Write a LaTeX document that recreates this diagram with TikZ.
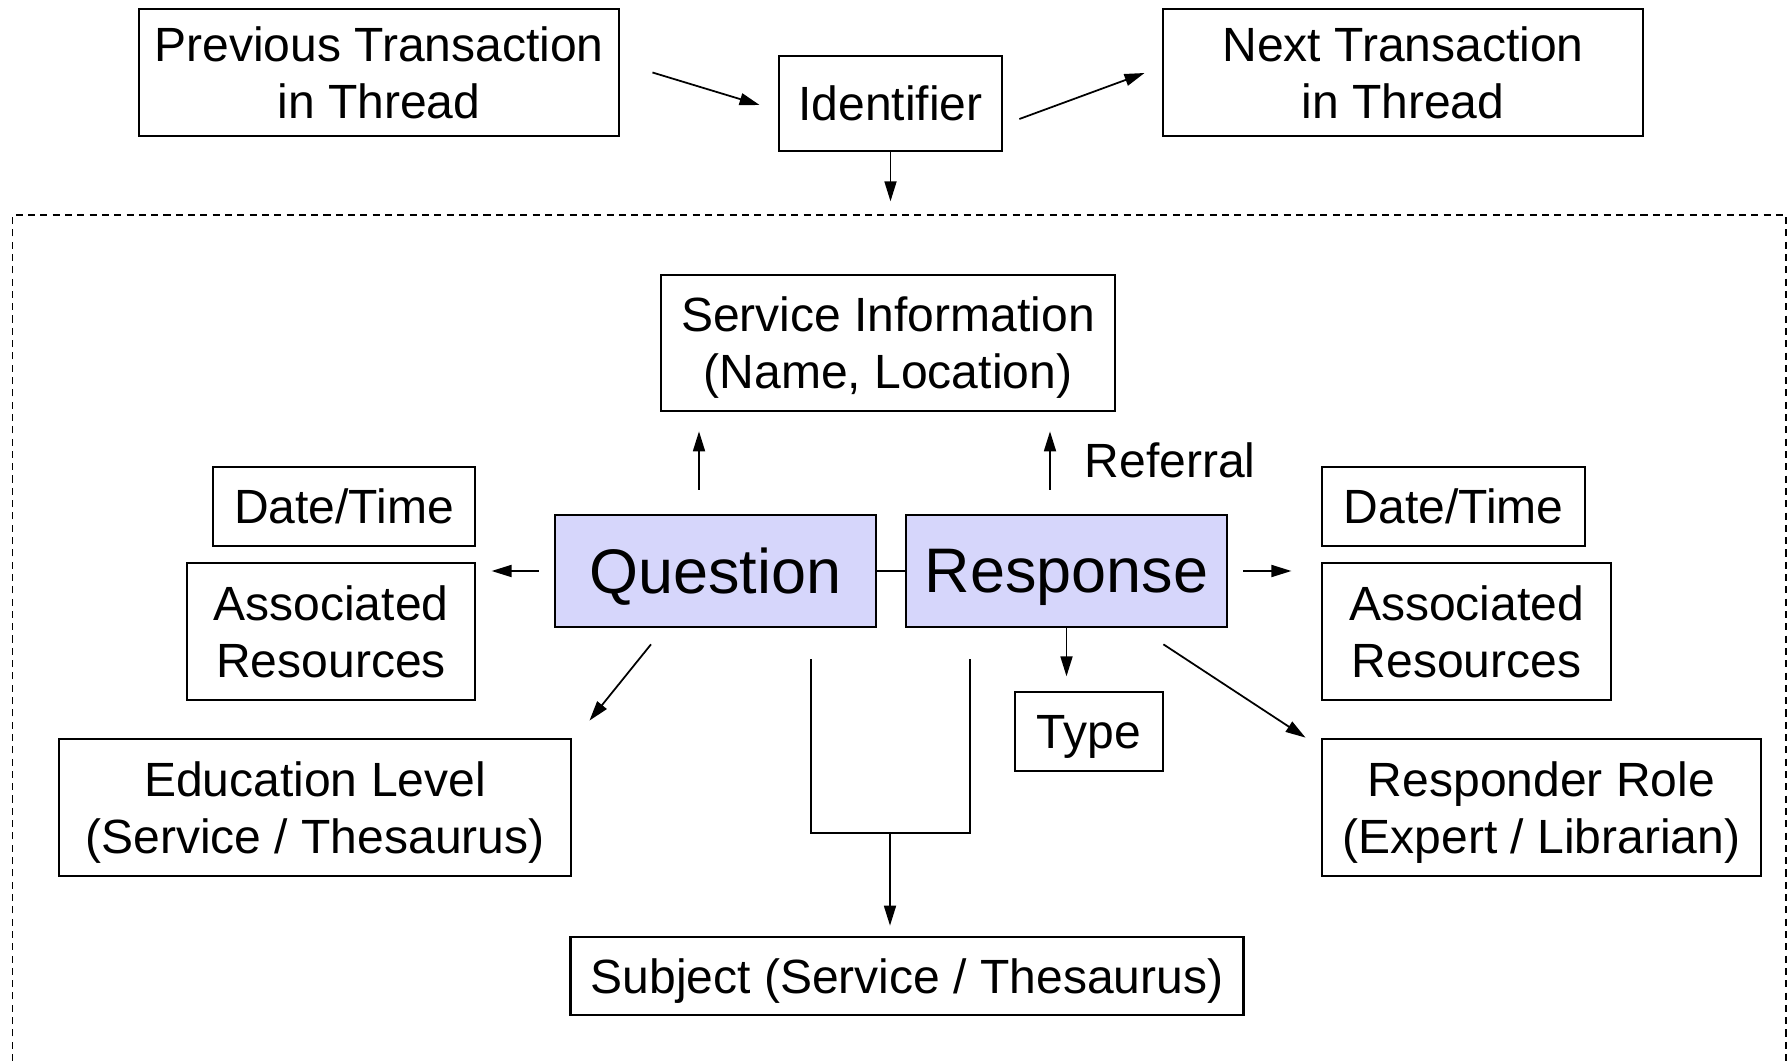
\documentclass[tikz,border=0pt]{standalone}
\usepackage{fontspec}
\setmainfont{Liberation Sans}
\usetikzlibrary{arrows.meta,calc}
\definecolor{qrfill}{RGB}{214,214,251}
\begin{document}
\begin{tikzpicture}[x=0.01cm,y=-0.01cm,
  box/.style={draw,line width=0.75pt,inner sep=0pt,align=center,text depth=0pt,font=\fontsize{13.66}{16.2}\selectfont},
  keybox/.style={box,fill=qrfill,minimum width=3.21cm,minimum height=1.12cm,font=\fontsize{17.9}{21}\selectfont},
  arr/.style={-{Triangle[length=0.2cm,width=0.12cm]},line width=0.5pt}]

  \useasboundingbox (0,0) rectangle (1790,1061);

  \node[box,minimum width=4.8cm,minimum height=1.27cm] (prev) at (379,72.5) {Previous Transaction\\in Thread};
  \node[box,minimum width=2.23cm,minimum height=0.95cm] (ident) at (890.5,103.5) {Identifier};
  \node[box,minimum width=4.8cm,minimum height=1.27cm] (next) at (1403,72.5) {Next Transaction\\in Thread};
  \draw[arr] ($(prev.east)+(32,0)$) -- ($(ident.west)+(-18,1.5)$);
  \draw[arr] ($(ident.east)+(16,15.5)$) -- ($(next.west)+(-17,0.5)$);
  \draw[arr] (ident.south) -- ++(0,49);

  \draw[line width=0.45pt,dash pattern=on 2pt off 1.5pt] (12.5,1061) -- (12.5,215) -- (1786,215) -- (1786,1061);

  \node[box,minimum width=4.54cm,minimum height=1.36cm] (service) at (888,343) {Service Information\\(Name, Location)};
  \node[keybox] (quest) at (715.5,571) {Question};
  \node[keybox] (resp) at (1066.5,571) {Response};
  \draw[line width=0.5pt] (quest.east) -- (resp.west);

  \node[box,minimum width=2.62cm,minimum height=0.79cm] (datel) at (344,506.5) {Date/Time};
  \node[box,minimum width=2.88cm,minimum height=1.37cm] (assocl) at (331,631.5) {Associated\\Resources};
  \node[box,minimum width=2.63cm,minimum height=0.79cm] (dater) at (1453.5,506.5) {Date/Time};
  \node[box,minimum width=2.89cm,minimum height=1.37cm] (assocr) at (1466.5,631.5) {Associated\\Resources};
  \node[box,minimum width=5.12cm,minimum height=1.37cm] (edu) at (315,807.5) {Education Level\\(Service / Thesaurus)};
  \node[box,minimum width=1.48cm,minimum height=0.79cm] (type) at (1089,731.5) {Type};
  \node[box,minimum width=4.39cm,minimum height=1.37cm] (role) at (1541.5,807.5) {Responder Role\\(Expert / Librarian)};
  \node[box,minimum width=6.72cm,minimum height=0.78cm] (subj) at (907,976) {Subject (Service / Thesaurus)};
  \node[anchor=west,inner sep=0pt,font=\fontsize{13.66}{16.2}\selectfont] (referral) at (1084,460) {Referral};

  \draw[arr] ($(quest.north)+(-16.5,-24)$) -- ($(service.south)+(-189,19)$);
  \draw[arr] ($(resp.north)+(-16.5,-24)$) -- ($(service.south)+(162,19)$);
  \draw[arr] ($(quest.west)+(-15,0)$) -- ++(-47,0);
  \draw[arr] ($(resp.east)+(15,0)$) -- ++(48,0);
  \draw[arr] ($(quest.south)+(-64.5,16)$) -- ($(edu.north east)+(17,-17)$);
  \draw[arr] (resp.south) -- ++(0,48);
  \draw[arr] ($(resp.south east)+(-65,16)$) -- ($(role.north west)+(-15,0)$);

  \draw[line width=0.5pt] ($(quest.south)+(95.5,31)$) -- ++(0,174) -| ($(resp.south)+(-96.5,31)$);
  \coordinate (join) at (890,832);
  \draw[arr] (join) -- ($(subj.north)+(-17,-10)$);

\end{tikzpicture}
\end{document}
